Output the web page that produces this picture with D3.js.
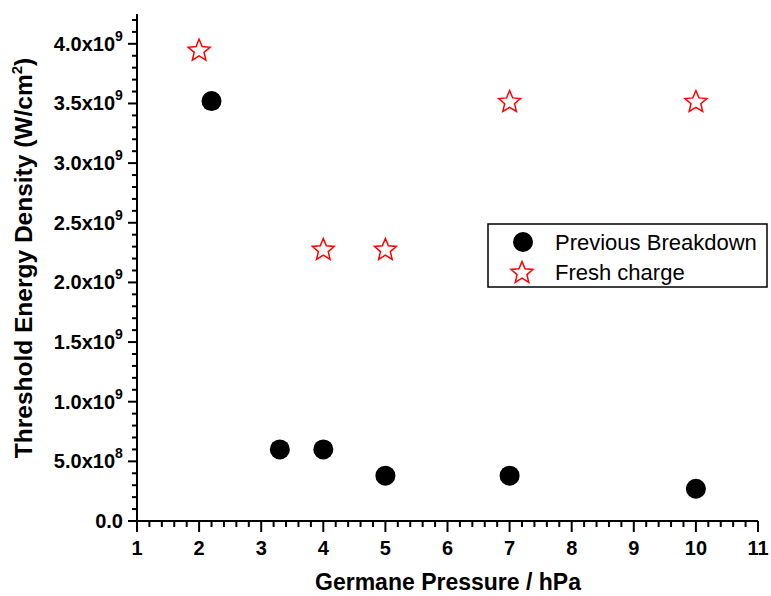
<!DOCTYPE html>
<html>
<head>
<meta charset="utf-8">
<script src="https://cdn.jsdelivr.net/npm/d3@7"></script>
<style>
  body { margin: 0; background: #fff; }
  svg { display: block; font-family: Arial, "Liberation Sans", sans-serif; }
</style>
</head>
<body>
<svg id="chart" width="771" height="596"></svg>
<script>
// data
var breakdownX = [2.2, 3.3, 4, 5, 7, 10];
var breakdownY = [3.52e9, 0.6e9, 0.6e9, 0.38e9, 0.38e9, 0.27e9];
var freshX = [2, 4, 5, 7, 10];
var freshY = [3.95e9, 2.28e9, 2.28e9, 3.52e9, 3.52e9];
var xTicks = [1, 2, 3, 4, 5, 6, 7, 8, 9, 10, 11];
var yTicks = [0, 0.5e9, 1.0e9, 1.5e9, 2.0e9, 2.5e9, 3.0e9, 3.5e9, 4.0e9];
var seriesNames = ['Previous Breakdown', 'Fresh charge'];

var dims = {
  left: 137,
  right: 758,
  top: 14,
  bottom: 521
};

var svg = d3.select('#chart');

var x = d3.scaleLinear().domain([1, 11]).range([dims.left, dims.right]);
var y = d3.scaleLinear().domain([0, 4.25e9]).range([dims.bottom, dims.top]);

// star path, outline only
var starPath = function(R) {
  var pts = [];
  for (var i = 0; i < 10; i++) {
    var r = i % 2 === 0 ? R : R * 0.45;
    var a = i * Math.PI / 5;
    pts.push([a, r]);
  }
  return d3.lineRadial().curve(d3.curveLinearClosed)(pts);
};

// y axis
var yAxis = svg.append('g').attr('transform', 'translate(' + dims.left + ',0)');
yAxis.append('line')
  .attr('x1', 0).attr('x2', 0)
  .attr('y1', dims.top).attr('y2', dims.bottom + 1)
  .attr('stroke', '#000').attr('stroke-width', 2);

d3.range(0, 43).forEach(function(i) {
  var v = i * 0.1e9;
  var major = i % 5 === 0;
  yAxis.append('line')
    .attr('x1', major ? -9 : -5).attr('x2', 0)
    .attr('y1', y(v)).attr('y2', y(v))
    .attr('stroke', '#000').attr('stroke-width', 2);
});

yTicks.forEach(function(v) {
  var t = yAxis.append('text')
    .attr('x', v === 0 ? -14 : -22)
    .attr('y', y(v) + 7)
    .attr('text-anchor', 'end')
    .attr('font-size', 20)
    .attr('font-weight', 'bold');
  if (v === 0) {
    t.text('0.0');
    return;
  }
  var e = Math.floor(Math.log10(v));
  var m = v / Math.pow(10, e);
  t.text(m.toFixed(1) + 'x10');
  yAxis.append('text')
    .attr('x', -22)
    .attr('y', y(v) - 3)
    .attr('text-anchor', 'start')
    .attr('font-size', 14)
    .attr('font-weight', 'bold')
    .text(e);
});

// x axis
var xAxis = svg.append('g').attr('transform', 'translate(0,' + dims.bottom + ')');
xAxis.append('line')
  .attr('x1', dims.left - 1).attr('x2', dims.right)
  .attr('y1', 0).attr('y2', 0)
  .attr('stroke', '#000').attr('stroke-width', 2);

d3.range(0, 51).forEach(function(i) {
  var v = 1 + i * 0.2;
  var major = i % 5 === 0;
  xAxis.append('line')
    .attr('x1', x(v)).attr('x2', x(v))
    .attr('y1', 0).attr('y2', major ? 11 : 6)
    .attr('stroke', '#000').attr('stroke-width', 2);
});

xTicks.forEach(function(v) {
  xAxis.append('text')
    .attr('x', x(v))
    .attr('y', 34)
    .attr('text-anchor', 'middle')
    .attr('font-size', 20)
    .attr('font-weight', 'bold')
    .text(v);
});

// axis titles
svg.append('text')
  .attr('x', 448)
  .attr('y', 590)
  .attr('text-anchor', 'middle')
  .attr('font-size', 23)
  .attr('font-weight', 'bold')
  .text('Germane Pressure / hPa');

var yTitle = svg.append('text')
  .attr('transform', 'translate(32,258) rotate(-90)')
  .attr('text-anchor', 'middle')
  .attr('font-size', 24.5)
  .attr('font-weight', 'bold');
yTitle.append('tspan').text('Threshold Energy Density (W/cm');
yTitle.append('tspan').attr('font-size', 15).attr('dy', -10).text('2');
yTitle.append('tspan').attr('dy', 10).text(')');

// points
svg.append('g').selectAll('circle')
  .data(breakdownX)
  .enter().append('circle')
  .attr('cx', function(d) { return x(d); })
  .attr('cy', function(d, i) { return y(breakdownY[i]); })
  .attr('r', 10)
  .attr('fill', '#000');

svg.append('g').selectAll('path')
  .data(freshX)
  .enter().append('path')
  .attr('transform', function(d, i) { return 'translate(' + x(d) + ',' + (y(freshY[i]) + 1) + ')'; })
  .attr('d', starPath(11.5))
  .attr('fill', 'none')
  .attr('stroke', '#f00')
  .attr('stroke-width', 1.5);

// legend
var legend = svg.append('g').attr('transform', 'translate(488,224)');
legend.append('rect')
  .attr('x', 0).attr('y', 0)
  .attr('width', 279).attr('height', 63)
  .attr('fill', '#fff')
  .attr('stroke', '#000')
  .attr('stroke-width', 1.5);
legend.append('circle')
  .attr('cx', 35).attr('cy', 18).attr('r', 10).attr('fill', '#000');
legend.append('path')
  .attr('transform', 'translate(34,49)')
  .attr('d', starPath(11.5))
  .attr('fill', 'none')
  .attr('stroke', '#f00')
  .attr('stroke-width', 1.5);
seriesNames.forEach(function(name, i) {
  legend.append('text')
    .attr('x', 67)
    .attr('y', 26 + i * 30)
    .attr('font-size', 22)
    .text(name);
});
</script>
</body>
</html>
